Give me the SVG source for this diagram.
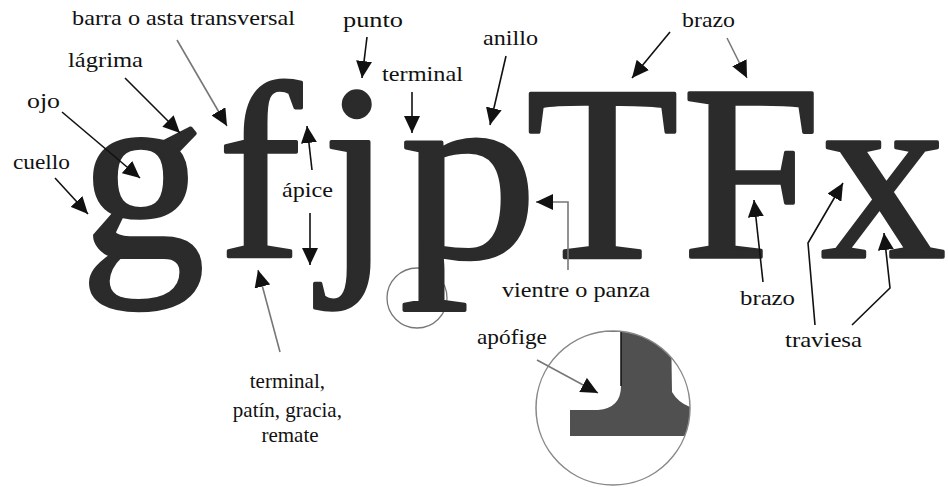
<svg xmlns="http://www.w3.org/2000/svg" width="948" height="487" viewBox="0 0 948 487">
<style>
.big{font-size:250px;fill:#2b2b2b;stroke:#2b2b2b;stroke-width:3.5;stroke-linejoin:round}
.lbl{font-size:21px;fill:#111}
.ar{fill:none;stroke:#111;stroke-width:1.6;marker-end:url(#ah)}
.ag{fill:none;stroke:#777;stroke-width:1.6;marker-end:url(#ah)}
</style>
<defs>
<marker id="ah" markerUnits="userSpaceOnUse" markerWidth="18" markerHeight="16" refX="17" refY="8" orient="auto">
<path d="M0,0 L17,8 L0,16 Z" fill="#111"/>
</marker>
<clipPath id="cc"><circle cx="613" cy="408" r="77"/></clipPath>
</defs>
<rect width="948" height="487" fill="#fff"/>
<g id="detail-circle">
<circle cx="417" cy="298" r="30" fill="none" stroke="#777" stroke-width="1.3"/>
</g>
<g id="letters" font-family="Liberation Serif">
<text class="big" x="80" y="257">g</text>
<text class="big" x="218" y="257">f</text>
<text class="big" x="322" y="257">j</text>
<text class="big" x="400" y="257" transform="translate(400 0) scale(1.1 1) translate(-400 0)">p</text>
<text class="big" x="526" y="257">T</text>
<text class="big" x="682" y="257">F</text>
<text class="big" x="821" y="257">x</text>
</g>
<g id="magnifier">
<g clip-path="url(#cc)">
<path d="M621,326 L621,386 Q621,408 598,410 L570,410 L570,436 L700,436 L700,410 Q680,406 672,392 L671,326 Z" fill="#505050"/>
<path d="M600,331 L621,331 L621,386" fill="none" stroke="#111" stroke-width="1.5"/>
</g>
<circle cx="613" cy="408" r="77" fill="none" stroke="#888" stroke-width="1.5"/>
</g>
<g id="connectors">
<path class="ag" d="M177,40 L227,126"/>
<path class="ar" d="M125,78 L180,133"/>
<path class="ar" d="M62,112 L140,178"/>
<path class="ar" d="M55,178 L88,214"/>
<path class="ar" d="M367,37 L362,78"/>
<path class="ar" d="M412,92 L412,133"/>
<path class="ar" d="M506,56 L490,125"/>
<path class="ar" d="M670,32 L632,78"/>
<path class="ag" d="M727,38 L747,78"/>
<path class="ar" d="M312,170 L307,126"/>
<path class="ar" d="M310,213 L310,265"/>
<path class="ag" d="M280,352 L258,270"/>
<path class="ag" d="M568,270 L568,202 L536,202"/>
<path class="ar" d="M763,282 L754,200"/>
<path class="ar" d="M815,325 L808,243 L843,183"/>
<path class="ar" d="M852,325 L890,288 L884,233"/>
<path class="ag" d="M537,360 L598,393"/>
</g>
<g id="labels" font-family="Liberation Serif">
<text id="l-barra" class="lbl" x="72" y="25" textLength="223" lengthAdjust="spacingAndGlyphs">barra o asta transversal</text>
<text id="l-lagrima" class="lbl" x="68" y="67" textLength="75" lengthAdjust="spacingAndGlyphs">lágrima</text>
<text id="l-ojo" class="lbl" x="27" y="108" textLength="33" lengthAdjust="spacingAndGlyphs">ojo</text>
<text id="l-cuello" class="lbl" x="13" y="169" textLength="57" lengthAdjust="spacingAndGlyphs">cuello</text>
<text id="l-punto" class="lbl" x="343" y="27" textLength="60" lengthAdjust="spacingAndGlyphs">punto</text>
<text id="l-terminal1" class="lbl" x="382" y="81" textLength="81" lengthAdjust="spacingAndGlyphs">terminal</text>
<text id="l-anillo" class="lbl" x="483" y="45" textLength="55" lengthAdjust="spacingAndGlyphs">anillo</text>
<text id="l-brazo1" class="lbl" x="682" y="27" textLength="53" lengthAdjust="spacingAndGlyphs">brazo</text>
<text id="l-apice" class="lbl" x="282" y="197" textLength="51" lengthAdjust="spacingAndGlyphs">ápice</text>
<text id="l-vientre" class="lbl" x="502" y="297" textLength="148" lengthAdjust="spacingAndGlyphs">vientre o panza</text>
<text id="l-brazo2" class="lbl" x="740" y="305" textLength="55" lengthAdjust="spacingAndGlyphs">brazo</text>
<text id="l-traviesa" class="lbl" x="785" y="347" textLength="77" lengthAdjust="spacingAndGlyphs">traviesa</text>
<text id="l-terminal2" class="lbl" text-anchor="middle">
<tspan x="290" y="388">terminal,</tspan>
<tspan x="290" y="417">patín, gracia,</tspan>
<tspan x="290" y="442">remate</tspan>
</text>
<text id="l-apofige" class="lbl" x="477" y="344" textLength="70" lengthAdjust="spacingAndGlyphs">apófige</text>
</g>
</svg>
